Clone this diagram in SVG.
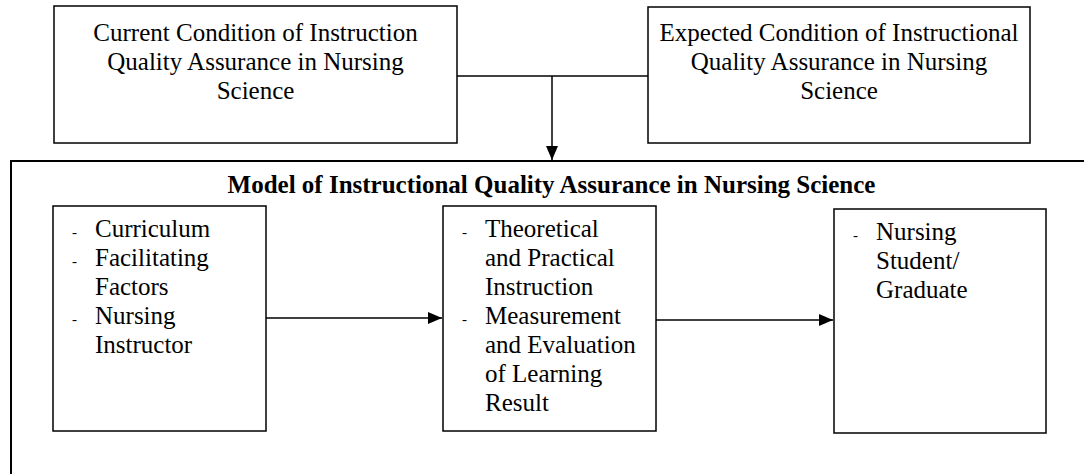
<svg xmlns="http://www.w3.org/2000/svg" width="1084" height="474" viewBox="0 0 1084 474">
<style>
.box{fill:#fff;stroke:#000;stroke-width:1.5}
.frame{fill:none;stroke:#000;stroke-width:2}
.t{font-family:"Liberation Serif","Times New Roman",serif;font-size:25px;fill:#000}
.c{text-anchor:middle}
.b{font-weight:bold}
.d{font-family:"Liberation Serif","Times New Roman",serif;font-size:15px;fill:#000}
.ln{fill:none;stroke:#000;stroke-width:1.5}
</style>
<defs>
<marker id="ah" markerUnits="userSpaceOnUse" markerWidth="14" markerHeight="12" viewBox="0 0 14 12" refX="14" refY="6" orient="auto">
<path d="M0,0 L14,6 L0,12 z" fill="#000"/>
</marker>
</defs>
<rect width="1084" height="474" fill="#fff"/>
<g id="model-frame">
<path class="frame" d="M1090,161 H11 V480"/>
<text class="t b c" x="551.5" y="193">Model of Instructional Quality Assurance in Nursing Science</text>
</g>
<g id="current-condition">
<rect class="box" x="54" y="6" width="403" height="137"/>
<text class="t c" x="255.5" y="41">Current Condition of Instruction</text>
<text class="t c" x="255.5" y="70">Quality Assurance in Nursing</text>
<text class="t c" x="255.5" y="99">Science</text>
</g>
<g id="expected-condition">
<rect class="box" x="648" y="7" width="382" height="136"/>
<text class="t c" x="839" y="41">Expected Condition of Instructional</text>
<text class="t c" x="839" y="70">Quality Assurance in Nursing</text>
<text class="t c" x="839" y="99">Science</text>
</g>
<g id="inputs">
<rect class="box" x="53" y="206" width="213" height="225"/>
<text class="d" x="72" y="237">-</text>
<text class="t" x="95" y="237">Curriculum</text>
<text class="d" x="72" y="266">-</text>
<text class="t" x="95" y="266">Facilitating</text>
<text class="t" x="95" y="295">Factors</text>
<text class="d" x="72" y="324">-</text>
<text class="t" x="95" y="324">Nursing</text>
<text class="t" x="95" y="353">Instructor</text>
</g>
<g id="process">
<rect class="box" x="443" y="206" width="213" height="225"/>
<text class="d" x="462" y="237">-</text>
<text class="t" x="485" y="237">Theoretical</text>
<text class="t" x="485" y="266">and Practical</text>
<text class="t" x="485" y="295">Instruction</text>
<text class="d" x="462" y="324">-</text>
<text class="t" x="485" y="324">Measurement</text>
<text class="t" x="485" y="353">and Evaluation</text>
<text class="t" x="485" y="382">of Learning</text>
<text class="t" x="485" y="411">Result</text>
</g>
<g id="output">
<rect class="box" x="834" y="209" width="212" height="224"/>
<text class="d" x="853" y="240">-</text>
<text class="t" x="876" y="240">Nursing</text>
<text class="t" x="876" y="269">Student/</text>
<text class="t" x="876" y="298">Graduate</text>
</g>
<g id="connectors">
<path class="ln" d="M457,76 H648"/>
<path class="ln" d="M552,76 V160" marker-end="url(#ah)"/>
<path class="ln" d="M266,318 H442" marker-end="url(#ah)"/>
<path class="ln" d="M656,320 H833" marker-end="url(#ah)"/>
</g>
</svg>
